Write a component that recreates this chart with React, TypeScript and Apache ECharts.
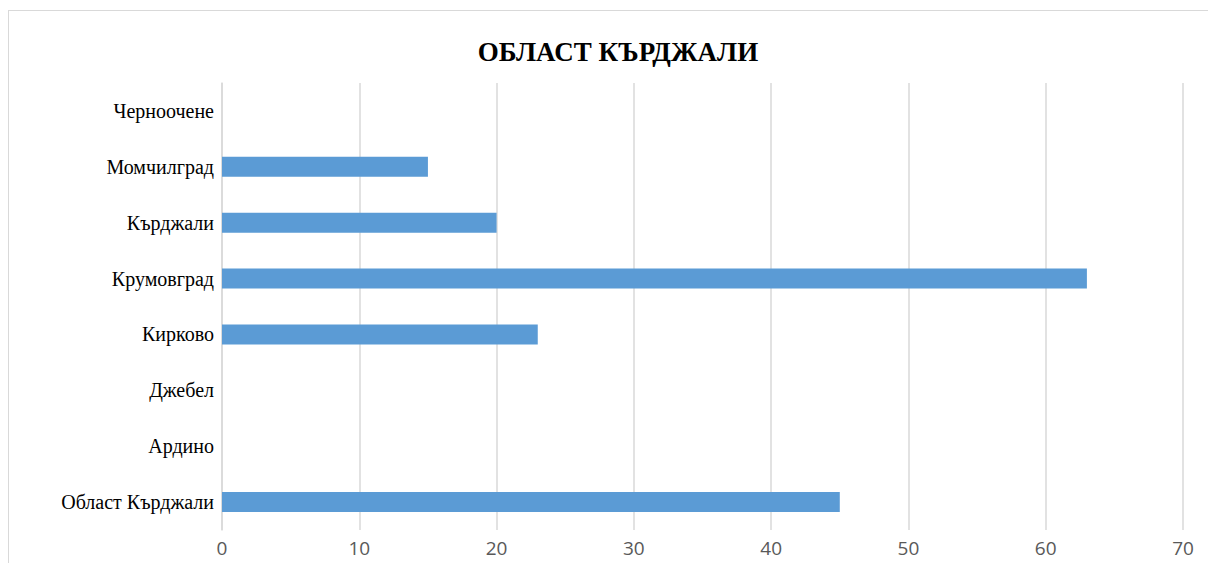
import React, { useEffect, useRef } from "react";
import * as echarts from "echarts";

const title = "ОБЛАСТ КЪРДЖАЛИ";
const categories = [
  "Област Кърджали",
  "Ардино",
  "Джебел",
  "Кирково",
  "Крумовград",
  "Кърджали",
  "Момчилград",
  "Черноочене",
];
const values = [45, 0, 0, 23, 63, 20, 15, 0];
const xMin = 0;
const xMax = 70;
const xInterval = 10;

export default function App() {
  const ref = useRef<HTMLDivElement>(null);
  useEffect(() => {
    if (!ref.current) return;
    const chart = echarts.init(ref.current, null, { renderer: "svg" });
    chart.setOption({
      animation: false,
      title: {
        text: title,
        left: 604,
        top: 22,
        textAlign: "center",
        textStyle: {
          fontFamily: "Liberation Serif",
          fontWeight: "bold",
          fontSize: 27,
          color: "#000000",
        },
      },
      grid: { left: 213, top: 72, width: 961, height: 447, containLabel: false },
      xAxis: {
        type: "value",
        min: xMin,
        max: xMax,
        interval: xInterval,
        axisLine: { show: false },
        axisTick: { show: false },
        axisLabel: {
          color: "#595959",
          fontFamily: "Open Sans",
          fontSize: 19,
          margin: 8,
        },
        splitLine: { lineStyle: { color: "#d9d9d9", width: 1.5 } },
      },
      yAxis: {
        type: "category",
        data: categories,
        axisLine: { lineStyle: { color: "#d9d9d9", width: 1.5 } },
        axisTick: { show: false },
        axisLabel: {
          color: "#000000",
          fontFamily: "Liberation Serif",
          fontSize: 20,
          margin: 8,
        },
      },
      series: [
        {
          type: "bar",
          data: values,
          barWidth: 20,
          itemStyle: { color: "#5b9bd5" },
        },
      ],
    });
    return () => chart.dispose();
  }, []);
  return (
    <div
      style={{
        position: "fixed",
        left: 0,
        top: 0,
        width: 1208,
        height: 563,
        overflow: "hidden",
        background: "#ffffff",
      }}
    >
      <div
        style={{
          position: "absolute",
          left: 8,
          top: 10,
          width: 1200,
          height: 555,
          border: "1px solid #d9d9d9",
          background: "#ffffff",
        }}
      >
        <div ref={ref} style={{ width: 1200, height: 555 }} />
      </div>
    </div>
  );
}
